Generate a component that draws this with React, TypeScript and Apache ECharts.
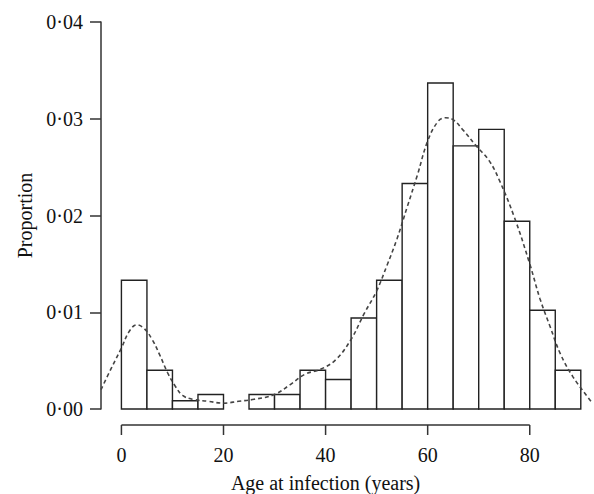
import React, { useEffect, useRef } from "react";
import * as echarts from "echarts";

const binStarts = [0, 5, 10, 15, 20, 25, 30, 35, 40, 45, 50, 55, 60, 65, 70, 75, 80, 85];
const binWidth = 5;
const binValues = [0.0133, 0.004, 0.00085, 0.0015, 0, 0.0015, 0.0015, 0.004, 0.00305, 0.0094, 0.0133, 0.0233, 0.0337, 0.0272, 0.0289, 0.0194, 0.0102, 0.004];

const densityAges = [-4, -2, 0, 1.5, 3, 4.5, 6, 7.5, 9, 10.5, 12, 14, 17, 20, 23, 26, 30, 33, 36, 39, 42, 45, 47.5, 50, 52, 54, 56, 58, 60, 62, 63.5, 65, 67, 69.5, 72, 74, 77, 80, 82, 84, 86, 88.5, 92];
const densityValues = [0.002, 0.0042, 0.0063, 0.008, 0.0087, 0.0083, 0.0072, 0.0056, 0.0038, 0.0024, 0.0014, 0.001, 0.0008, 0.0006, 0.0008, 0.001, 0.0015, 0.0025, 0.0036, 0.0041, 0.0051, 0.0072, 0.0098, 0.0122, 0.0148, 0.0176, 0.0209, 0.0242, 0.0277, 0.0297, 0.0301, 0.0299, 0.0288, 0.0272, 0.0257, 0.0237, 0.0198, 0.015, 0.0114, 0.0085, 0.0057, 0.0033, 0.0008];

const xTicks = [0, 20, 40, 60, 80];
const yTicks = [0, 0.01, 0.02, 0.03, 0.04];
const xName = "Age at infection (years)";
const yName = "Proportion";

const FONT = "'Liberation Serif', 'Times New Roman', serif";
const INK = "#222";

export default function App() {
  const ref = useRef<HTMLDivElement>(null);
  useEffect(() => {
    document.body.style.margin = "0";
    const chart = echarts.init(ref.current!, null, { renderer: "svg" });
    const bars = binStarts
      .map((s, i) => [s, s + binWidth, binValues[i]])
      .filter((d) => d[2] > 0);
    chart.setOption({
      animation: false,
      grid: { left: 101, right: 3, top: 22, bottom: 85 },
      xAxis: {
        type: "value",
        min: -4,
        max: 92,
        show: false,
      },
      yAxis: {
        type: "value",
        min: yTicks[0],
        max: yTicks[yTicks.length - 1],
        interval: 0.01,
        splitLine: { show: false },
        axisLine: { show: true, onZero: false, lineStyle: { color: "#333", width: 1.5 } },
        axisTick: { show: true, length: 11, lineStyle: { color: "#333", width: 1.5 } },
        axisLabel: {
          formatter: (v: number) => v.toFixed(2).replace(".", "·"),
          fontFamily: FONT,
          fontSize: 20,
          color: "#111",
          margin: 18,
        },
        name: yName,
        nameLocation: "middle",
        nameGap: 55,
        nameTextStyle: { fontFamily: FONT, fontSize: 20, color: "#111" },
      },
      series: [
        {
          type: "custom",
          silent: true,
          data: bars,
          encode: { x: [0, 1], y: 2 },
          renderItem: (params: any, api: any) => {
            const tl = api.coord([api.value(0), api.value(2)]);
            const br = api.coord([api.value(1), 0]);
            return {
              type: "rect",
              shape: { x: tl[0], y: tl[1], width: br[0] - tl[0], height: br[1] - tl[1] },
              style: { fill: "#fff", stroke: INK, lineWidth: 1.4 },
            };
          },
          z: 2,
        },
        {
          type: "line",
          data: densityAges.map((a, i) => [a, densityValues[i]]),
          smooth: 0.4,
          showSymbol: false,
          clip: false,
          lineStyle: { color: "#444", width: 1.6, type: [4, 3] },
          z: 3,
        },
        {
          type: "custom",
          silent: true,
          clip: false,
          data: [[0, 0]],
          encode: { x: 0, y: 1 },
          renderItem: (params: any, api: any) => {
            const off = 16;
            const p0 = api.coord([xTicks[0], 0]);
            const p1 = api.coord([xTicks[xTicks.length - 1], 0]);
            const y = p0[1] + off;
            const children: any[] = [
              {
                type: "line",
                shape: { x1: p0[0], y1: y, x2: p1[0], y2: y },
                style: { stroke: "#333", lineWidth: 1.5 },
              },
            ];
            xTicks.forEach((t) => {
              const p = api.coord([t, 0]);
              children.push({
                type: "line",
                shape: { x1: p[0], y1: y, x2: p[0], y2: y + 10 },
                style: { stroke: "#333", lineWidth: 1.5 },
              });
              children.push({
                type: "text",
                x: p[0],
                y: y + 30,
                style: {
                  text: String(t),
                  fontFamily: FONT,
                  fontSize: 20,
                  fill: "#111",
                  align: "center",
                  verticalAlign: "middle",
                },
              });
            });
            const mid = api.coord([(xTicks[0] + xTicks[xTicks.length - 1]) / 2, 0]);
            children.push({
              type: "text",
              x: mid[0],
              y: y + 58,
              style: {
                text: xName,
                fontFamily: FONT,
                fontSize: 20,
                fill: "#111",
                align: "center",
                verticalAlign: "middle",
              },
            });
            return { type: "group", children };
          },
        },
      ],
    });
    return () => chart.dispose();
  }, []);
  return (
    <div
      ref={ref}
      style={{ position: "absolute", left: 0, top: 0, width: 594, height: 494 }}
    />
  );
}
